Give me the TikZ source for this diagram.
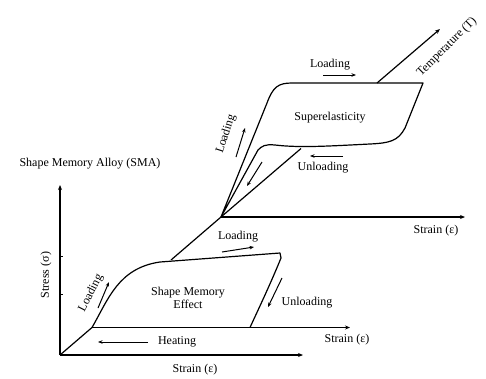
\documentclass[tikz,border=0pt]{standalone}
\usepackage{fontspec}
\setmainfont{Liberation Serif}
\usetikzlibrary{arrows.meta}
\begin{document}
\begin{tikzpicture}[x=1pt,y=-1pt,
  axis/.style={line width=1.5pt,-{Stealth[length=5pt,width=4pt]}},
  thinaxis/.style={line width=1.2pt,-{Stealth[length=5pt,width=4pt]}},
  loop/.style={line width=1.2pt,line join=round},
  hint/.style={line width=1pt,-{Stealth[length=4.5pt,width=3.5pt]}},
  lbl/.style={font=\fontsize{12}{13}\selectfont,inner sep=0pt}
]
\useasboundingbox (0,0) rectangle (486,378);

% key points
\coordinate (O) at (60,355);
\coordinate (Ytop) at (60,185);
\coordinate (Xend) at (303,355);
\coordinate (A) at (92,327.5);
\coordinate (B) at (171,260);
\coordinate (C) at (221,217);
\coordinate (D) at (301,148.5);
\coordinate (E) at (377,83);
\coordinate (T) at (440,29);
\coordinate (Xs) at (350,327.5);
\coordinate (Xu) at (465,217);

% main axes
\draw[axis] (O) -- (Ytop);
\draw[axis] (O) -- (Xend);
\draw[line width=0.8pt] (60,256) -- (63,256) (60,294) -- (63,294);

% temperature axis, interrupted inside the two loops
\draw[loop] (O) -- (A);
\draw[loop] (B) -- (C) -- (D);
\draw[thinaxis] (E) -- (T);

% strain axes of the two loops
\draw[axis] (A) -- (Xs);
\draw[thinaxis] (C) -- (Xu);

% shape memory effect loop
\draw[loop] (A) .. controls (108,300) and (118,268) .. (160,262)
  -- (280,253) -- (281,258) .. controls (270,285) and (258,310) .. (250,327.5);

% superelastic loop
\draw[loop] (C) -- (267,103) .. controls (273,87) and (278,83) .. (292,83)
  -- (423,83) -- (405,128) .. controls (398,141) and (390,143) .. (370,144)
  .. controls (330,146) and (300,148) .. (275,145)
  .. controls (265,144) and (262,146) .. (258,150) -- (C);

% labels
\node[lbl] (sma) at (90,164) {Shape Memory Alloy (SMA)};
\node[lbl,rotate=90] (stress) at (46,275) {Stress (σ)};
\node[lbl] (strain1) at (195,370) {Strain (ε)};
\node[lbl] (strain2) at (347,340) {Strain (ε)};
\node[lbl] (strain3) at (436,231) {Strain (ε)};
\node[lbl,rotate=45,anchor=west] (temp) at (419,75) {Temperature (T)};

\node[lbl,align=center] (sme) at (188,298) {Shape Memory\\Effect};
\node[lbl] (se) at (330,118) {Superelasticity};

% shape memory effect annotations
\node[lbl] (heat) at (177,342) {Heating};
\coordinate (h1) at (148,342);
\coordinate (h2) at (98,342);
\draw[hint] (h1) -- (h2);

\node[lbl,rotate=63] (sl) at (91,293) {Loading};
\coordinate (sl1) at (98,308);
\coordinate (sl2) at (109,282);
\draw[hint] (sl1) -- (sl2);

\node[lbl] (tl) at (238,237) {Loading};
\coordinate (tl1) at (222,252);
\coordinate (tl2) at (254,247);
\draw[hint] (tl1) -- (tl2);

\node[lbl] (su) at (307,303) {Unloading};
\coordinate (su1) at (282,278);
\coordinate (su2) at (268,307);
\draw[hint] (su1) -- (su2);

% superelastic annotations
\node[lbl] (ul) at (330,65) {Loading};
\coordinate (ul1) at (323,75);
\coordinate (ul2) at (356,75);
\draw[hint] (ul1) -- (ul2);

\node[lbl,rotate=72] (ll) at (226,134) {Loading};
\coordinate (ll1) at (236,157);
\coordinate (ll2) at (245,128);
\draw[hint] (ll1) -- (ll2);

\node[lbl] (uu) at (323,168) {Unloading};
\coordinate (uu1) at (343,156);
\coordinate (uu2) at (310,156);
\draw[hint] (uu1) -- (uu2);
\coordinate (ud1) at (262,162);
\coordinate (ud2) at (247,186);
\draw[hint] (ud1) -- (ud2);
\end{tikzpicture}
\end{document}
